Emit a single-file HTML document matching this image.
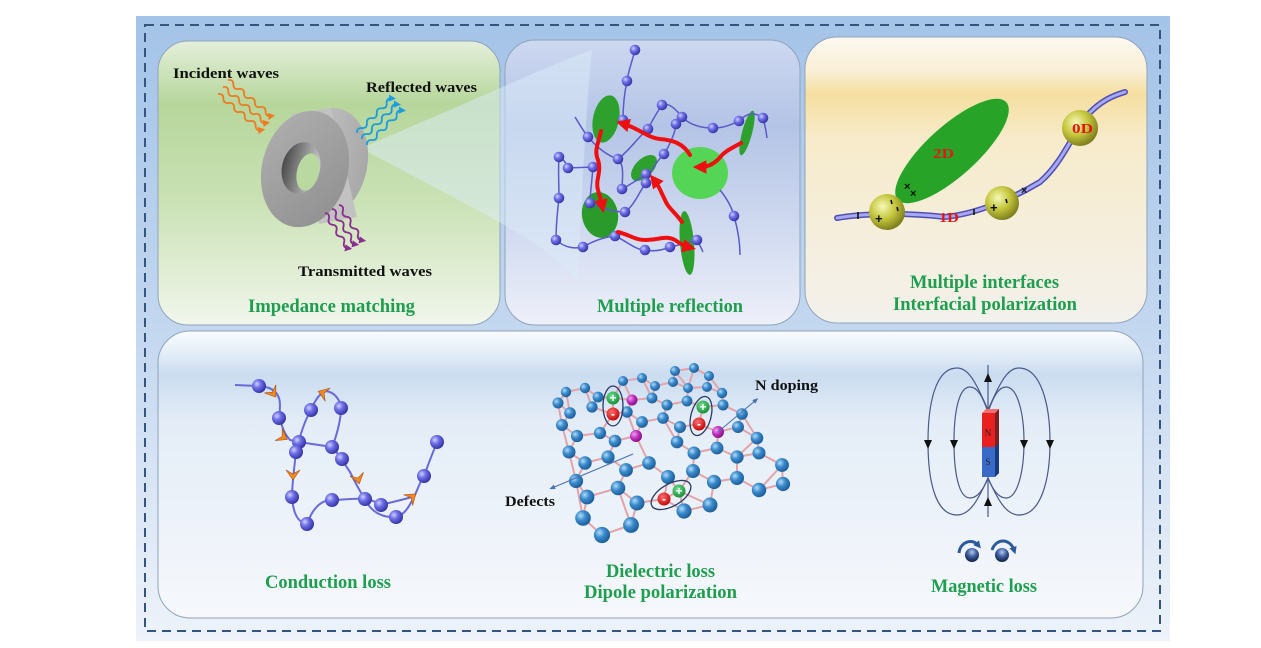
<!DOCTYPE html>
<html><head><meta charset="utf-8">
<style>
html,body{margin:0;padding:0;background:#fff;}
svg{display:block;}
text{font-family:"Liberation Serif","Times New Roman",serif;font-weight:bold;}
.g{fill:#1e9e4e;font-size:19px;}
.k{fill:#111;font-size:15px;}
.r{fill:#e01818;font-size:14px;}
.w{fill:#fff;font-size:12px;text-anchor:middle;font-family:"Liberation Sans",sans-serif;}
</style></head><body>
<svg width="1261" height="648" viewBox="0 0 1261 648" xmlns="http://www.w3.org/2000/svg">
<defs>
<linearGradient id="gOut" x1="0" y1="0" x2="0" y2="1">
<stop offset="0" stop-color="#a3c3e8"/><stop offset="0.5" stop-color="#c3d7ef"/><stop offset="1" stop-color="#eef3fa"/></linearGradient>
<linearGradient id="gTL" x1="0" y1="0" x2="0" y2="1">
<stop offset="0" stop-color="#e5efdb"/><stop offset="0.22" stop-color="#b6d69b"/><stop offset="0.55" stop-color="#c9e1b3"/><stop offset="1" stop-color="#f1f6ec"/></linearGradient>
<linearGradient id="gTM" x1="0" y1="0" x2="0" y2="1">
<stop offset="0" stop-color="#cdd8f0"/><stop offset="0.3" stop-color="#b4c4e6"/><stop offset="0.7" stop-color="#d3dcf1"/><stop offset="1" stop-color="#eef0f9"/></linearGradient>
<linearGradient id="gTR" x1="0" y1="0" x2="0" y2="1">
<stop offset="0" stop-color="#fbf9f1"/><stop offset="0.12" stop-color="#f9efd4"/><stop offset="0.2" stop-color="#f5dea0"/><stop offset="0.36" stop-color="#f7ebcb"/><stop offset="1" stop-color="#f3f1ec"/></linearGradient>
<linearGradient id="gB" x1="0" y1="0" x2="0" y2="1">
<stop offset="0" stop-color="#fafcfe"/><stop offset="0.07" stop-color="#e6eff8"/><stop offset="0.15" stop-color="#cadcf0"/><stop offset="0.32" stop-color="#e4edf7"/><stop offset="1" stop-color="#f6f8fc"/></linearGradient>
<radialGradient id="bp" cx="0.35" cy="0.35" r="0.7"><stop offset="0" stop-color="#d0d0ff"/><stop offset="0.4" stop-color="#7070e8"/><stop offset="1" stop-color="#3030a0"/></radialGradient>
<radialGradient id="bb" cx="0.35" cy="0.35" r="0.7"><stop offset="0" stop-color="#b0dcf8"/><stop offset="0.45" stop-color="#3a8acc"/><stop offset="1" stop-color="#1a5a96"/></radialGradient>
<radialGradient id="bm" cx="0.35" cy="0.35" r="0.7"><stop offset="0" stop-color="#f0a0f0"/><stop offset="0.5" stop-color="#c030c0"/><stop offset="1" stop-color="#801080"/></radialGradient>
<radialGradient id="by" cx="0.38" cy="0.35" r="0.7"><stop offset="0" stop-color="#f6f8b8"/><stop offset="0.5" stop-color="#c4c63c"/><stop offset="1" stop-color="#76761a"/></radialGradient>
<radialGradient id="bs" cx="0.5" cy="0.3" r="0.7"><stop offset="0" stop-color="#b0c8f0"/><stop offset="0.5" stop-color="#3a5a9a"/><stop offset="1" stop-color="#102040"/></radialGradient>
<radialGradient id="bg" cx="0.4" cy="0.35" r="0.7"><stop offset="0" stop-color="#70e090"/><stop offset="1" stop-color="#108a30"/></radialGradient>
<radialGradient id="br" cx="0.4" cy="0.35" r="0.7"><stop offset="0" stop-color="#ff7070"/><stop offset="1" stop-color="#c00000"/></radialGradient>
<linearGradient id="ringF" x1="0" y1="0" x2="1" y2="1"><stop offset="0" stop-color="#b0b0b0"/><stop offset="1" stop-color="#8e8e8e"/></linearGradient>
<linearGradient id="ringS" x1="0" y1="0" x2="1" y2="0"><stop offset="0" stop-color="#c8c8c8"/><stop offset="1" stop-color="#a8a8a8"/></linearGradient>
<linearGradient id="ringH" x1="0" y1="0" x2="1" y2="0"><stop offset="0" stop-color="#4a4a4a"/><stop offset="0.6" stop-color="#9a9a9a"/><stop offset="1" stop-color="#cfcfcf"/></linearGradient>
<marker id="mR" markerWidth="3.4" markerHeight="3.4" viewBox="0 0 10 10" refX="4" refY="5" orient="auto"><path d="M0,0 L10,5 L0,10 z" fill="#ee1010"/></marker>
<marker id="mo" markerWidth="4" markerHeight="4" viewBox="0 0 10 10" refX="4" refY="5" orient="auto"><path d="M0,0 L10,5 L0,10 z" fill="#ee7a22"/></marker>
<marker id="mb" markerWidth="4" markerHeight="4" viewBox="0 0 10 10" refX="4" refY="5" orient="auto"><path d="M0,0 L10,5 L0,10 z" fill="#1a9ee0"/></marker>
<marker id="mp" markerWidth="4" markerHeight="4" viewBox="0 0 10 10" refX="4" refY="5" orient="auto"><path d="M0,0 L10,5 L0,10 z" fill="#8a2e90"/></marker>
<marker id="mt" markerWidth="6" markerHeight="6" viewBox="0 0 10 10" refX="5" refY="5" orient="auto"><path d="M0,1 L10,5 L0,9 z" fill="#4a70b0"/></marker>
<marker id="ms" markerWidth="2.5" markerHeight="2.5" viewBox="0 0 10 10" refX="4" refY="5" orient="auto"><path d="M0,0 L10,5 L0,10 z" fill="#2a5a9a"/></marker>
</defs>

<!-- outer -->
<rect x="136" y="16" width="1034" height="625" fill="url(#gOut)"/>
<rect x="145" y="25" width="1015" height="606" fill="none" stroke="#33557f" stroke-width="2" stroke-dasharray="9 6"/>

<!-- panels -->
<rect x="158" y="41" width="342" height="284" rx="30" fill="url(#gTL)" stroke="#8fa3bb" stroke-width="1"/>
<rect x="505" y="40" width="295" height="285" rx="30" fill="url(#gTM)" stroke="#8fa3bb" stroke-width="1"/>
<rect x="805" y="37" width="342" height="286" rx="32" fill="url(#gTR)" stroke="#8fa3bb" stroke-width="1"/>
<rect x="158" y="331" width="985" height="287" rx="32" fill="url(#gB)" stroke="#8fa3bb" stroke-width="1"/>

<!-- cone -->
<path d="M364,147 L505,86 C540,70 570,58 592,50 C585,120 582,200 578,280 C540,240 505,225 366,151 Z" fill="#dcebf7" fill-opacity="0.5"/>

<!-- ring -->
<g>
<ellipse cx="326" cy="164" rx="41" ry="57" transform="rotate(14 326 164)" fill="url(#ringS)"/>
<polygon points="291,114 331,108 357,217 319,224" fill="#c2c2c2"/>
<ellipse cx="305" cy="169" rx="43" ry="59" transform="rotate(14 305 169)" fill="url(#ringF)"/>
<ellipse cx="301" cy="168" rx="19" ry="26" transform="rotate(14 301 168)" fill="url(#ringH)"/>
<ellipse cx="308" cy="172" rx="11" ry="19" transform="rotate(14 308 172)" fill="#b9d9a0"/>
</g>

<!-- waves -->
<g fill="none" stroke-width="1.8">
<g stroke="#ee7a22" marker-end="url(#mo)">
<path transform="translate(228,80) rotate(40)" d="M0,0 q3.5,-4 7,0 t7,0 t7,0 t7,0 t7,0 t7,0 t7,0 t7,0"/>
<path transform="translate(223,87) rotate(40)" d="M0,0 q3.5,-4 7,0 t7,0 t7,0 t7,0 t7,0 t7,0 t7,0 t7,0"/>
<path transform="translate(218,94) rotate(40)" d="M0,0 q3.5,-4 7,0 t7,0 t7,0 t7,0 t7,0 t7,0 t7,0 t7,0"/>
</g>
<g stroke="#1a9ee0" marker-end="url(#mb)">
<path transform="translate(357,133) rotate(-45)" d="M0,0 q3.5,-4 7,0 t7,0 t7,0 t7,0 t7,0 t7,0 t7,0"/>
<path transform="translate(362,139) rotate(-45)" d="M0,0 q3.5,-4 7,0 t7,0 t7,0 t7,0 t7,0 t7,0 t7,0"/>
<path transform="translate(367,145) rotate(-45)" d="M0,0 q3.5,-4 7,0 t7,0 t7,0 t7,0 t7,0 t7,0 t7,0"/>
</g>
<g stroke="#8a2e90" marker-end="url(#mp)">
<path transform="translate(325,213) rotate(57)" d="M0,0 q3.5,-4 7,0 t7,0 t7,0 t7,0 t7,0 t7,0"/>
<path transform="translate(332,209) rotate(57)" d="M0,0 q3.5,-4 7,0 t7,0 t7,0 t7,0 t7,0 t7,0"/>
<path transform="translate(339,205) rotate(57)" d="M0,0 q3.5,-4 7,0 t7,0 t7,0 t7,0 t7,0 t7,0"/>
</g>
</g>

<text class="k" x="173" y="78" textLength="106" lengthAdjust="spacingAndGlyphs">Incident waves</text>
<text class="k" x="366" y="92" textLength="111" lengthAdjust="spacingAndGlyphs">Reflected waves</text>
<text class="k" x="298" y="276" textLength="134" lengthAdjust="spacingAndGlyphs">Transmitted waves</text>
<text class="g" x="248" y="312" textLength="167" lengthAdjust="spacingAndGlyphs">Impedance matching</text>

<!-- middle panel network -->
<g>
<ellipse cx="606" cy="119" rx="13" ry="24" transform="rotate(12 606 119)" fill="#2ea02e"/>
<ellipse cx="644" cy="168" rx="16" ry="9" transform="rotate(-45 644 168)" fill="#2ea02e"/>
<ellipse cx="700" cy="173" rx="28" ry="26" fill="#55d555"/>
<ellipse cx="747" cy="133" rx="5" ry="23" transform="rotate(15 747 133)" fill="#2ea02e"/>
<ellipse cx="600" cy="215" rx="18" ry="23" transform="rotate(-10 600 215)" fill="#2a9a2a"/>
<ellipse cx="687" cy="243" rx="7" ry="32" transform="rotate(-5 687 243)" fill="#2ea02e"/>
</g>
<g fill="none" stroke="#5a5ac8" stroke-width="1.5">
<path d="M635,50 C632,62 628,72 627,81 C624,95 623,110 623,120"/>
<path d="M575,117 C580,125 584,132 588,137 C595,145 605,155 618,159 C625,165 622,180 622,189"/>
<path d="M559,157 C565,160 566,164 568,168 L593,167 C592,180 590,195 590,203 C600,208 615,212 625,212 C635,205 640,190 646,183 C650,170 660,158 664,154 C670,145 676,130 676,124"/>
<path d="M559,198 C557,215 556,230 556,240 C565,248 575,249 583,247 C595,240 605,237 615,236 C625,240 635,250 645,250 C655,252 663,250 670,247 C680,245 690,242 697,240 C700,245 702,250 703,252"/>
<path d="M648,129 C655,115 660,108 662,105 C668,102 675,108 682,117 C690,125 700,128 713,128 C725,128 732,124 739,121 C748,112 755,112 763,118 C765,125 766,130 767,138"/>
<path d="M622,189 C630,185 640,178 646,174"/>
<path d="M720,190 C728,200 732,208 734,216 C738,230 740,245 740,255"/>
<path d="M559,157 C558,170 559,185 559,198"/>
<path d="M618,159 C630,150 640,135 648,129"/>
</g>
<g fill="url(#bp)">
<circle cx="635" cy="50" r="5.3"/><circle cx="627" cy="81" r="5.3"/><circle cx="662" cy="105" r="5.3"/><circle cx="682" cy="117" r="5.3"/><circle cx="676" cy="124" r="5.3"/><circle cx="648" cy="129" r="5.3"/><circle cx="713" cy="128" r="5.3"/><circle cx="739" cy="121" r="5.3"/><circle cx="763" cy="118" r="5.3"/><circle cx="623" cy="120" r="5.3"/><circle cx="588" cy="137" r="5.3"/><circle cx="559" cy="157" r="5.3"/><circle cx="568" cy="168" r="5.3"/><circle cx="593" cy="167" r="5.3"/><circle cx="618" cy="159" r="5.3"/><circle cx="664" cy="154" r="5.3"/><circle cx="646" cy="174" r="5.3"/><circle cx="646" cy="183" r="5.3"/><circle cx="622" cy="189" r="5.3"/><circle cx="559" cy="198" r="5.3"/><circle cx="590" cy="203" r="5.3"/><circle cx="625" cy="212" r="5.3"/><circle cx="734" cy="216" r="5.3"/><circle cx="556" cy="240" r="5.3"/><circle cx="583" cy="247" r="5.3"/><circle cx="615" cy="236" r="5.3"/><circle cx="645" cy="250" r="5.3"/><circle cx="670" cy="247" r="5.3"/><circle cx="697" cy="240" r="5.3"/>
</g>
<g fill="none" stroke="#ee1010" stroke-width="4" stroke-linecap="round" marker-end="url(#mR)">
<path d="M690,155 C683,143 672,140 660,139 C648,138 638,128 624,124"/>
<path d="M741,143 C732,148 727,150 722,155 C715,164 708,167 701,167"/>
<path d="M601,131 C598,145 594,150 598,160 C602,172 595,180 598,190 C600,196 601,200 602,205"/>
<path d="M618,232 C630,235 635,240 645,240 C660,240 665,235 675,240 C681,244 684,246 688,247"/>
<path d="M682,222 C675,212 668,208 665,200 C660,190 659,186 655,181"/>
</g>
<text class="g" x="597" y="312" textLength="146" lengthAdjust="spacingAndGlyphs">Multiple reflection</text>

<!-- right top panel -->
<ellipse cx="952" cy="151" rx="73" ry="25" transform="rotate(-42 952 151)" fill="#27a327"/>
<path d="M837,218 C860,214 900,212 945,217 C975,214 1010,200 1040,182 C1060,165 1070,140 1085,118 C1100,100 1115,95 1125,92" fill="none" stroke="#5050b0" stroke-width="6" stroke-linecap="round"/>
<path d="M837,218 C860,214 900,212 945,217 C975,214 1010,200 1040,182 C1060,165 1070,140 1085,118 C1100,100 1115,95 1125,92" fill="none" stroke="#a8a8f4" stroke-width="3" stroke-linecap="round"/>
<circle cx="887" cy="212" r="18" fill="url(#by)"/>
<circle cx="1002" cy="203" r="17" fill="url(#by)"/>
<circle cx="1080" cy="128" r="18" fill="url(#by)"/>
<g stroke="#111" stroke-width="1.6">
<line x1="858" y1="212" x2="858" y2="219"/>
<line x1="974" y1="209" x2="974" y2="215"/>
<line x1="891" y1="200" x2="892" y2="204"/>
<line x1="897" y1="207" x2="898" y2="211"/>
<line x1="1006" y1="199" x2="1007" y2="203"/>
</g>
<g fill="#111">
<text x="875" y="223" style="font-family:'Liberation Sans',sans-serif;font-size:13px">+</text>
<text x="990" y="212" style="font-family:'Liberation Sans',sans-serif;font-size:13px">+</text>
<text x="904" y="190" style="font-family:'Liberation Sans',sans-serif;font-size:11px">×</text>
<text x="910" y="197" style="font-family:'Liberation Sans',sans-serif;font-size:11px">×</text>
<text x="1021" y="194" style="font-family:'Liberation Sans',sans-serif;font-size:11px">×</text>
</g>
<text class="r" x="933" y="158" textLength="21" lengthAdjust="spacingAndGlyphs">2D</text>
<text class="r" x="1072" y="133" textLength="21" lengthAdjust="spacingAndGlyphs">0D</text>
<text class="r" x="939" y="222" textLength="20" lengthAdjust="spacingAndGlyphs">1D</text>
<text class="g" x="910" y="288" textLength="149" lengthAdjust="spacingAndGlyphs">Multiple interfaces</text>
<text class="g" x="893" y="310" textLength="184" lengthAdjust="spacingAndGlyphs">Interfacial polarization</text>

<!-- conduction loss -->
<g fill="none" stroke="#6a6ad8" stroke-width="2">
<path d="M235,385 L259,386 C275,387 280,395 280,405 C279,418 281,430 290,440 L299,442"/>
<path d="M296,452 C294,470 292,485 292,497 C293,510 296,522 307,524 C312,510 320,500 332,500 C345,500 355,498 365,499 C372,500 378,503 381,505"/>
<path d="M365,499 C370,510 380,518 396,517 C405,515 410,505 415,495 C418,488 420,482 424,476 C428,465 433,452 437,442"/>
<path d="M381,505 C392,502 402,500 412,497"/>
<path d="M299,442 L332,447 C340,455 345,465 350,472 C355,482 360,492 365,499"/>
<path d="M296,452 C300,435 305,420 311,410 C315,400 320,393 326,391 C333,392 340,398 341,408 C341,420 336,438 332,447"/>
</g>
<g fill="url(#bp)">
<circle cx="259" cy="386" r="7"/><circle cx="279" cy="418" r="7"/><circle cx="311" cy="410" r="7"/><circle cx="341" cy="408" r="7"/><circle cx="299" cy="442" r="7"/><circle cx="296" cy="452" r="7"/><circle cx="332" cy="447" r="7"/><circle cx="342" cy="459" r="7"/><circle cx="292" cy="497" r="7"/><circle cx="332" cy="500" r="7"/><circle cx="365" cy="499" r="7"/><circle cx="381" cy="505" r="7"/><circle cx="396" cy="517" r="7"/><circle cx="307" cy="524" r="7"/><circle cx="424" cy="476" r="7"/><circle cx="437" cy="442" r="7"/>
</g>
<g fill="#f08a24" stroke="#a85010" stroke-width="0.6">
<path transform="translate(273,393) rotate(55)" d="M-5,-7 L5,0 L-5,7 L-1,0 Z"/>
<path transform="translate(323,393) rotate(200)" d="M-5,-7 L5,0 L-5,7 L-1,0 Z"/>
<path transform="translate(283,437) rotate(30)" d="M-5,-7 L5,0 L-5,7 L-1,0 Z"/>
<path transform="translate(293,475) rotate(90)" d="M-5,-7 L5,0 L-5,7 L-1,0 Z"/>
<path transform="translate(358,479) rotate(75)" d="M-5,-7 L5,0 L-5,7 L-1,0 Z"/>
<path transform="translate(412,497) rotate(-40)" d="M-5,-7 L5,0 L-5,7 L-1,0 Z"/>
</g>
<text class="g" x="265" y="588" textLength="126" lengthAdjust="spacingAndGlyphs">Conduction loss</text>

<!-- graphene -->
<g id="bonds" stroke="#e2a4aa" stroke-width="2"></g>
<g id="gr" fill="url(#bb)">
<circle cx="675" cy="371" r="5"/><circle cx="694" cy="368" r="5"/><circle cx="709" cy="376" r="5"/><circle cx="642" cy="378" r="5"/><circle cx="623" cy="381" r="5"/><circle cx="655" cy="386" r="5"/><circle cx="673" cy="382" r="5"/><circle cx="688" cy="388" r="5"/><circle cx="707" cy="387" r="5"/><circle cx="722" cy="393" r="5.2"/><circle cx="585" cy="388" r="5.2"/><circle cx="566" cy="392" r="5.2"/><circle cx="598" cy="397" r="5.4"/><circle cx="652" cy="398" r="5.4"/><circle cx="667" cy="405" r="5.5"/><circle cx="687" cy="401" r="5.4"/><circle cx="723" cy="405" r="5.5"/><circle cx="558" cy="403" r="5.5"/><circle cx="592" cy="407" r="5.6"/><circle cx="627" cy="412" r="5.7"/><circle cx="642" cy="422" r="5.9"/><circle cx="663" cy="418" r="5.8"/><circle cx="680" cy="427" r="6"/><circle cx="742" cy="414" r="5.8"/><circle cx="738" cy="427" r="6"/><circle cx="570" cy="413" r="5.8"/><circle cx="562" cy="425" r="6"/><circle cx="600" cy="433" r="6.1"/><circle cx="577" cy="436" r="6.1"/><circle cx="615" cy="441" r="6.3"/><circle cx="677" cy="442" r="6.3"/><circle cx="694" cy="453" r="6.5"/><circle cx="717" cy="448" r="6.4"/><circle cx="757" cy="438" r="6.3"/><circle cx="737" cy="457" r="6.6"/><circle cx="759" cy="453" r="6.5"/><circle cx="569" cy="452" r="6.5"/><circle cx="608" cy="457" r="6.6"/><circle cx="585" cy="463" r="6.7"/><circle cx="649" cy="463" r="6.8"/><circle cx="626" cy="470" r="6.9"/><circle cx="668" cy="477" r="7"/><circle cx="693" cy="471" r="7"/><circle cx="714" cy="482" r="7.1"/><circle cx="737" cy="478" r="7"/><circle cx="782" cy="465" r="6.9"/><circle cx="783" cy="484" r="7.1"/><circle cx="759" cy="490" r="7.2"/><circle cx="576" cy="481" r="7.1"/><circle cx="587" cy="497" r="7.4"/><circle cx="618" cy="488" r="7.3"/><circle cx="637" cy="503" r="7.5"/><circle cx="710" cy="505" r="7.5"/><circle cx="684" cy="511" r="7.6"/><circle cx="583" cy="518" r="7.8"/><circle cx="631" cy="525" r="7.9"/><circle cx="602" cy="535" r="8.1"/>
</g>
<g fill="url(#bm)">
<circle cx="632" cy="400" r="5.5"/><circle cx="636" cy="436" r="6"/><circle cx="718" cy="432" r="6"/>
</g>
<g fill="none" stroke="#4a70b0" stroke-width="1" marker-end="url(#mt)">
<line x1="718" y1="432" x2="756" y2="400"/>
<line x1="633" y1="454" x2="552" y2="488"/>
</g>
<g fill="none" stroke="#2a3a6a" stroke-width="1.3">
<ellipse cx="613" cy="406" rx="10" ry="20"/>
<ellipse cx="701" cy="416" rx="10" ry="20" transform="rotate(15 701 416)"/>
<ellipse cx="671" cy="495" rx="22" ry="11" transform="rotate(-30 671 495)"/>
</g>
<circle cx="613" cy="398" r="6.5" fill="url(#bg)"/><text class="w" x="613" y="402">+</text>
<circle cx="613" cy="414" r="6.5" fill="url(#br)"/><text class="w" x="613" y="418">-</text>
<circle cx="703" cy="407" r="6.5" fill="url(#bg)"/><text class="w" x="703" y="411">+</text>
<circle cx="699" cy="424" r="6.5" fill="url(#br)"/><text class="w" x="699" y="428">-</text>
<circle cx="664" cy="499" r="6.5" fill="url(#br)"/><text class="w" x="664" y="503">-</text>
<circle cx="679" cy="491" r="6.5" fill="url(#bg)"/><text class="w" x="679" y="495">+</text>
<text class="k" x="755" y="390" textLength="63" lengthAdjust="spacingAndGlyphs">N doping</text>
<text class="k" x="505" y="506" textLength="50" lengthAdjust="spacingAndGlyphs">Defects</text>
<text class="g" x="606" y="577" textLength="109" lengthAdjust="spacingAndGlyphs">Dielectric loss</text>
<text class="g" x="584" y="598" textLength="153" lengthAdjust="spacingAndGlyphs">Dipole polarization</text>

<!-- magnetic -->
<g fill="none" stroke="#4a5a8a" stroke-width="1.2">
<line x1="988" y1="365" x2="988" y2="517"/>
<path d="M988,410 C975,380 968,368 957,368 C935,368 928,405 928,442 C928,480 935,515 957,515 C970,515 978,500 988,478"/>
<path d="M988,412 C982,395 977,387 970,387 C958,387 954,415 954,442 C954,470 958,498 970,498 C978,498 984,488 988,478"/>
<path d="M988,412 C994,395 999,387 1006,387 C1018,387 1024,415 1024,442 C1024,470 1018,498 1006,498 C998,498 992,488 988,478"/>
<path d="M988,410 C1001,380 1008,368 1019,368 C1041,368 1050,405 1050,442 C1050,480 1041,515 1019,515 C1006,515 998,500 988,478"/>
</g>
<g fill="#111">
<polygon points="924,440 932,440 928,449"/>
<polygon points="950,440 958,440 954,449"/>
<polygon points="1020,440 1028,440 1024,449"/>
<polygon points="1046,440 1054,440 1050,449"/>
<polygon points="984,382 992,382 988,373"/>
<polygon points="984,506 992,506 988,497"/>
</g>
<polygon points="982,413 986,409 999,409 995,413" fill="#f27070"/>
<polygon points="995,413 999,409 999,473 995,477" fill="#7a2020"/>
<rect x="982" y="413" width="13" height="34" fill="#e82020"/>
<rect x="982" y="447" width="13" height="30" fill="#3a6ac8"/>
<polygon points="995,447 999,443 999,473 995,477" fill="#1a3a80"/>
<text x="988" y="436" font-size="9" fill="#222" text-anchor="middle" style="font-weight:normal">N</text>
<text x="988" y="465" font-size="9" fill="#222" text-anchor="middle" style="font-weight:normal">S</text>
<circle cx="972" cy="555" r="7" fill="url(#bs)"/>
<circle cx="1002" cy="555" r="7" fill="url(#bs)"/>
<g fill="none" stroke="#2a5a9a" stroke-width="3" marker-end="url(#ms)">
<path d="M959,553 C960,542 972,538 978,545"/>
<path d="M992,550 C996,538 1010,538 1014,550"/>
</g>
<text class="g" x="931" y="592" textLength="106" lengthAdjust="spacingAndGlyphs">Magnetic loss</text>
</svg>
<script>
(function(){
 var cs=document.querySelectorAll('#gr circle'),p=[];
 for(var i=0;i<cs.length;i++)p.push([+cs[i].getAttribute('cx'),+cs[i].getAttribute('cy')]);
 var extra=[[632,400],[636,436],[718,432],[613,398],[613,414],[703,407],[699,424],[664,499],[679,491]];
 p=p.concat(extra);
 var g=document.getElementById('bonds'),ns='http://www.w3.org/2000/svg',seen={};
 for(var a=0;a<p.length;a++){
  var c=[];
  for(var b=0;b<p.length;b++){ if(a===b)continue;
   var dx=p[a][0]-p[b][0],dy=p[a][1]-p[b][1],d=Math.sqrt(dx*dx+dy*dy);
   var ym=(p[a][1]+p[b][1])/2,s=19+(ym-368)*0.075;
   if(d<1.35*s&&d>10)c.push([d,b]);
  }
  c.sort(function(x,y){return x[0]-y[0];});
  for(var k=0;k<Math.min(3,c.length);k++){
   var b2=c[k][1],key=Math.min(a,b2)+'_'+Math.max(a,b2);
   if(seen[key])continue;seen[key]=1;
   var l=document.createElementNS(ns,'line');
   l.setAttribute('x1',p[a][0]);l.setAttribute('y1',p[a][1]);l.setAttribute('x2',p[b2][0]);l.setAttribute('y2',p[b2][1]);g.appendChild(l);
  }
 }
})();
</script>
</body></html>
